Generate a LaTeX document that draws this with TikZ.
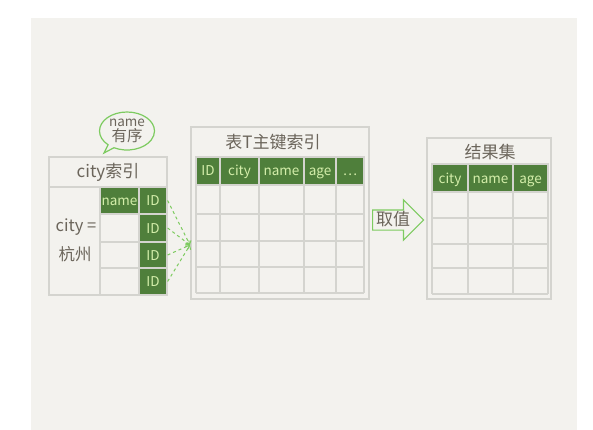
\documentclass[tikz,border=0pt]{standalone}
\usepackage{fontspec}
\setmainfont{Noto Sans CJK SC}
\usetikzlibrary{shapes.arrows,shapes.callouts,arrows.meta}
\definecolor{bgc}{HTML}{F3F2EE}
\definecolor{gridc}{HTML}{D4D4CF}
\definecolor{hdgreen}{HTML}{4F7F3B}
\definecolor{hdtext}{HTML}{D4EEAA}
\definecolor{inkc}{HTML}{6B655B}
\definecolor{linec}{HTML}{7DCB60}
\begin{document}
\begin{tikzpicture}[x=1pt,y=-1pt,
    grid/.style={draw=gridc,line width=1.2pt},
    hd/.style={fill=hdgreen,draw=gridc,line width=1.2pt,text=hdtext,inner sep=0pt,
        text height=10pt,text depth=0pt,font=\fontsize{13.5}{14}\selectfont},
    ttl/.style={text=inkc,font=\fontsize{17}{18}\selectfont},
    ink/.style={text=inkc,font=\fontsize{16.5}{18}\selectfont,inner sep=0pt}]
    \useasboundingbox (0,0) rectangle (593,430);
    \fill[bgc] (31,18) rectangle (577,430);
    % city index
    \draw[grid] (49,157) rectangle (167,295) (49,187) -- (167,187)
        (100,187) -- (100,295) (139,187) -- (139,295);
    \foreach \y in {214,242,268} \draw[grid] (100,\y) -- (139,\y);
    \node[ttl] (cityidx) at (108,172) {city索引};
    \node[hd,minimum width=39pt,minimum height=27pt] (nm) at (119.5,200.5) {name};
    \foreach \t/\b [count=\i] in {187/214,214/242,242/268,268/295}
        \node[hd,minimum width=28pt,minimum height=\b pt-\t pt] (id\i) at (153,{(\t+\b)/2}) {ID};
    \node[ink] (cityeq) at (76,227) {city =};
    \node[ink] (hz) at (75,254) {杭州};
    \node[ellipse callout,draw=linec,line width=1.2pt,text=inkc,align=center,inner sep=0pt,
        minimum width=55pt,minimum height=38pt,callout absolute pointer={(104,153)},
        font=\fontsize{13.5}{15}\selectfont] (bubble)
        at (127,131) {name\\{\fontsize{15.5}{15}\selectfont 有序}};
    % table T
    \draw[grid] (191,127) rectangle (369,299);
    \node[ttl] (ttitle) at (273,142) {表T主键索引};
    \foreach \l/\r/\t [count=\i] in {196/220/ID,220/259/city,259/304/name,304/336/age,336/364/…}
        \node[hd,minimum width=\r pt-\l pt,minimum height=28pt] (th\i) at ({(\l+\r)/2},171) {\t};
    \foreach \x in {196,220,259,304,336,364} \draw[grid] (\x,185) -- (\x,293);
    \foreach \y in {214,241,267,293} \draw[grid] (196,\y) -- (364,\y);
    % result set
    \draw[grid] (427,138) rectangle (551,299);
    \node[ttl] (rtitle) at (490,152) {结果集};
    \foreach \l/\r/\t [count=\i] in {432/468/city,468/513/name,513/548/age}
        \node[hd,minimum width=\r pt-\l pt,minimum height=28pt] (rh\i) at ({(\l+\r)/2},178) {\t};
    \foreach \x in {432,468,513,548} \draw[grid] (\x,192) -- (\x,294);
    \foreach \y in {218,244,268,294} \draw[grid] (432,\y) -- (548,\y);
    \node[single arrow,draw=linec,line width=1.2pt,text=inkc,anchor=tail,inner sep=2pt,
        text height=13pt,text depth=2pt,minimum height=51pt,single arrow head extend=10pt,
        font=\fontsize{17}{18}\selectfont] (fetch) at (372,220) {取值};
    \coordinate (hit) at (190,245);
    \foreach \i in {1,...,4}
        \draw[linec,dashed,line width=1pt,-{Straight Barb[length=3pt]}] (id\i.east) -- (hit);
\end{tikzpicture}
\end{document}
